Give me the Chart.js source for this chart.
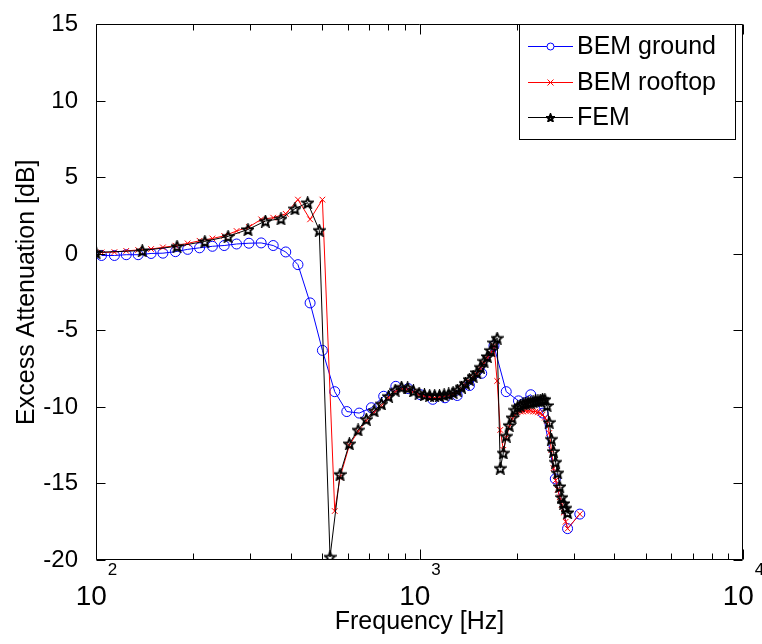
<!DOCTYPE html>
<html>
<head>
<meta charset="utf-8">
<title>Excess Attenuation</title>
<script src="https://cdn.jsdelivr.net/npm/chart.js"></script>
<style>
  html, body { margin: 0; padding: 0; background: #fff; }
  #chart { display: block; }
</style>
</head>
<body>
<canvas id="chart" width="762" height="644"></canvas>
<script>
// frequencies [Hz] and excess attenuation [dB]
var bemGroundFreq = [104, 114, 124, 135, 148, 161, 176, 192, 209, 229, 249, 272, 297, 324, 353, 386, 421, 459, 501, 547,
    596, 651, 710, 775, 845, 923, 1007, 1099, 1199, 1308, 1427, 1557, 1699, 1854, 2023, 2208, 2409, 2629, 2869, 3130];
var bemGround = [-0.1, -0.1, -0.05, -0.05, 0.03, 0.05, 0.15, 0.3, 0.4, 0.5, 0.55, 0.65, 0.7, 0.72, 0.55, 0.13, -0.7, -3.2, -6.3, -9.0,
    -10.3, -10.4, -10.05, -9.3, -8.65, -8.8, -9.2, -9.5, -9.4, -9.25, -8.6, -7.8, -6.0, -9.0, -9.6, -9.2, -10.4, -14.7, -17.95, -17.0];

var bemRooftopFreq = [104, 114, 124, 135, 148, 161, 176, 192, 209, 229, 249, 272, 297, 324, 353, 386, 421, 459, 501, 547,
    568, 607, 646, 685, 724, 763, 802, 841, 880, 919, 958, 997, 1036, 1075, 1114, 1153, 1192, 1231, 1270, 1309,
    1348, 1387, 1426, 1465, 1504, 1543, 1582, 1621, 1660, 1699, 1738, 1777, 1816, 1855, 1894, 1933, 1972, 2011, 2050, 2089,
    2128, 2167, 2206, 2245, 2284, 2323, 2362, 2401, 2440, 2479, 2518, 2557, 2596, 2635, 2674, 2713, 2752, 2791, 2830,
    2869, 3130];
var bemRooftop = [0.1, 0.12, 0.2, 0.26, 0.32, 0.43, 0.54, 0.69, 0.86, 1.01, 1.18, 1.5, 1.76, 2.26, 2.37, 2.62, 3.55, 2.26, 3.55, -16.8,
    -14.6, -12.5, -11.6, -10.9, -10.35, -9.9, -9.4, -9.0, -8.8, -8.85, -9.0, -9.2, -9.3, -9.35, -9.4, -9.35, -9.3, -9.25, -9.15, -9.0,
    -8.8, -8.55, -8.3, -8.05, -7.85, -7.5, -7.15, -6.8, -6.5, -6.0, -8.3, -11.5, -12.8, -12.0, -11.3, -10.8, -10.5, -10.35, -10.3, -10.3,
    -10.25, -10.25, -10.25, -10.3, -10.3, -10.35, -10.4, -10.5, -10.7, -10.9, -11.7, -12.8, -14.0, -14.8, -15.4, -15.9, -16.4, -16.9, -17.5,
    -17.95, -17.0];

var femFreq = [100, 139, 178, 217, 256, 295, 334, 373, 412, 451,
    490, 529, 568, 607, 646, 685, 724, 763, 802, 841,
    880, 919, 958, 997, 1036, 1075, 1114, 1153, 1192, 1231,
    1270, 1309, 1348, 1387, 1426, 1465, 1504, 1543, 1582, 1621,
    1660, 1699, 1738, 1777, 1816, 1855, 1894, 1933, 1972, 2011,
    2050, 2089, 2128, 2167, 2206, 2245, 2284, 2323, 2362, 2401,
    2440, 2479, 2518, 2557, 2596, 2635, 2674, 2713, 2752, 2791,
    2830, 2869];
var fem = [0.1, 0.22, 0.5, 0.82, 1.15, 1.6, 2.15, 2.3, 2.95, 3.35,
    1.55, -19.8, -14.4, -12.4, -11.5, -10.8, -10.25, -9.8, -9.3, -8.9,
    -8.7, -8.75, -8.95, -9.1, -9.2, -9.25, -9.25, -9.25, -9.2, -9.15,
    -9.05, -8.9, -8.7, -8.45, -8.2, -8.0, -7.75, -7.4, -7.0, -6.7,
    -6.3, -5.8, -5.5, -14.0, -13.0, -11.9, -11.2, -10.7, -10.2, -10.0,
    -9.9, -9.8, -9.75, -9.7, -9.7, -9.65, -9.6, -9.6, -9.55, -9.5,
    -9.5, -9.9, -11.0, -12.1, -12.9, -13.6, -14.3, -15.2, -15.9, -16.3,
    -16.6, -16.9];

var seriesNames = ["BEM ground", "BEM rooftop", "FEM"];
var seriesColors = ["#0000ff", "#ff0000", "#000000"];

// axis ticks
var xMajorTicks = [100, 1000, 10000];
var xTickBase = ["10", "10", "10"];
var xTickExponents = ["2", "3", "4"];
var xMinorTicks = [200, 300, 400, 500, 600, 700, 800, 900, 2000, 3000, 4000, 5000, 6000, 7000, 8000, 9000];
var yTicks = [-20, -15, -10, -5, 0, 5, 10, 15];

var fontName = "'Liberation Sans', Arial, sans-serif";

function toPoints(xs, ys) {
    var pts = [];
    for (var i = 0; i < xs.length; i++) {
        pts.push({ x: xs[i], y: ys[i] });
    }
    return pts;
}

// pentagram marker (like matlab 'p')
function makeStar(size, lw) {
    var c = document.createElement("canvas");
    c.width = size;
    c.height = size;
    var g = c.getContext("2d");
    var m = size / 2;
    var ro = size / 2 - 1, ri = ro * 0.45;
    g.beginPath();
    for (var i = 0; i < 10; i++) {
        var r = i % 2 === 0 ? ro : ri;
        var a = -Math.PI / 2 + i * Math.PI / 5;
        var px = m + r * Math.cos(a), py = m + 0.6 + r * Math.sin(a);
        if (i === 0) g.moveTo(px, py); else g.lineTo(px, py);
    }
    g.closePath();
    g.strokeStyle = "#000";
    g.lineWidth = lw;
    g.lineJoin = "miter";
    g.stroke();
    return c;
}
var starMarker = makeStar(13, 1.9);
var starSmall = makeStar(9, 2.2);

// axes box, inward ticks, x labels and legend, matlab style
var matlabAxes = {
    id: "matlabAxes",
    afterDatasetsDraw: function (chart) {
        var ctx = chart.ctx, a = chart.chartArea;
        var xs = chart.scales.x, ys = chart.scales.y;
        var L = Math.round(a.left) + 0.5, R = Math.round(a.right) - 0.5;
        var T = Math.round(a.top) + 0.5, B = Math.round(a.bottom) - 0.5;
        ctx.save();
        ctx.strokeStyle = "#000";
        ctx.lineWidth = 1;
        ctx.beginPath();
        ctx.rect(L, T, R - L, B - T);
        function xTick(v, len) {
            var p = Math.round(xs.getPixelForValue(v)) + 0.5;
            ctx.moveTo(p, B); ctx.lineTo(p, B - len);
            ctx.moveTo(p, T); ctx.lineTo(p, T + len);
        }
        xMinorTicks.forEach(function (v) { xTick(v, 6); });
        xMajorTicks.forEach(function (v) { xTick(v, 10); });
        yTicks.forEach(function (v) {
            var p = Math.round(ys.getPixelForValue(v)) + 0.5;
            ctx.moveTo(L, p); ctx.lineTo(L + 9, p);
            ctx.moveTo(R, p); ctx.lineTo(R - 9, p);
        });
        ctx.stroke();

        // x tick labels 10^n
        ctx.fillStyle = "#000";
        ctx.textBaseline = "alphabetic";
        ctx.textAlign = "left";
        for (var i = 0; i < xMajorTicks.length; i++) {
            var p = xs.getPixelForValue(xMajorTicks[i]);
            ctx.font = "28px " + fontName;
            var wb = ctx.measureText(xTickBase[i]).width;
            ctx.font = "17px " + fontName;
            var we = ctx.measureText(xTickExponents[i]).width;
            var x0 = p - (wb + we) / 2;
            ctx.font = "28px " + fontName;
            ctx.fillText(xTickBase[i], x0, 605);
            ctx.font = "17px " + fontName;
            ctx.fillText(xTickExponents[i], x0 + wb + 1, 575);
        }
        ctx.restore();
    },
    afterDraw: function (chart) {
        var ctx = chart.ctx;
        var bx = 519.5, by = 24.5, bw = 216, bh = 115;
        ctx.save();
        ctx.fillStyle = "#fff";
        ctx.fillRect(bx, by, bw, bh);
        ctx.strokeStyle = "#000";
        ctx.lineWidth = 1;
        ctx.strokeRect(bx, by, bw, bh);
        ctx.font = "25px " + fontName;
        ctx.textBaseline = "middle";
        ctx.textAlign = "left";
        chart.data.datasets.forEach(function (ds, i) {
            var yy = Math.round(46 + 35.5 * i) + 0.5;
            ctx.strokeStyle = ds.borderColor;
            ctx.lineWidth = 1;
            ctx.beginPath();
            ctx.moveTo(528, yy);
            ctx.lineTo(573, yy);
            ctx.stroke();
            var mx = 550.5;
            ctx.beginPath();
            if (i === 0) {
                ctx.fillStyle = "#fff";
                ctx.arc(mx, yy, 3.5, 0, Math.PI * 2);
                ctx.fill();
                ctx.stroke();
            } else if (i === 1) {
                ctx.moveTo(mx - 3, yy - 3); ctx.lineTo(mx + 3, yy + 3);
                ctx.moveTo(mx - 3, yy + 3); ctx.lineTo(mx + 3, yy - 3);
                ctx.stroke();
            } else {
                ctx.drawImage(starSmall, mx - 4.5, yy - 4.5);
            }
            ctx.fillStyle = "#000";
            ctx.fillText(ds.label, 577, yy + 1);
        });
        ctx.restore();
    }
};

var ctx = document.getElementById("chart").getContext("2d");
var chart = new Chart(ctx, {
    type: "line",
    data: {
        datasets: [
            {
                label: seriesNames[0],
                data: toPoints(bemGroundFreq, bemGround),
                borderColor: seriesColors[0],
                backgroundColor: "rgba(0,0,0,0)",
                borderWidth: 1,
                pointStyle: "circle",
                pointRadius: 5,
                pointBorderWidth: 1,
                pointBorderColor: seriesColors[0],
                pointBackgroundColor: "rgba(0,0,0,0)",
                order: 3
            },
            {
                label: seriesNames[1],
                data: toPoints(bemRooftopFreq, bemRooftop),
                borderColor: seriesColors[1],
                backgroundColor: "rgba(0,0,0,0)",
                borderWidth: 1,
                pointStyle: "crossRot",
                pointRadius: 4,
                pointBorderWidth: 1,
                pointBorderColor: seriesColors[1],
                order: 2
            },
            {
                label: seriesNames[2],
                data: toPoints(femFreq, fem),
                borderColor: seriesColors[2],
                backgroundColor: "rgba(0,0,0,0)",
                borderWidth: 1,
                pointStyle: starMarker,
                pointRadius: 6,
                order: 1
            }
        ]
    },
    options: {
        responsive: false,
        animation: false,
        events: [],
        layout: { padding: { top: 18, right: 19, left: 0, bottom: 0 } },
        plugins: {
            legend: { display: false },
            tooltip: { enabled: false }
        },
        elements: { line: { tension: 0 } },
        scales: {
            x: {
                type: "logarithmic",
                min: 100,
                max: 10000,
                grid: { display: false },
                border: { display: false },
                ticks: { display: false },
                title: {
                    display: true,
                    text: "Frequency [Hz]",
                    color: "#000",
                    font: { family: fontName, size: 25 },
                    padding: { top: 0, bottom: 7 }
                },
                afterFit: function (scale) { scale.height = 84; }
            },
            y: {
                min: -20,
                max: 15,
                grid: { display: false },
                border: { display: false },
                ticks: {
                    stepSize: 5,
                    color: "#000",
                    padding: 10,
                    font: { family: fontName, size: 24 }
                },
                title: {
                    display: true,
                    text: "Excess Attenuation [dB]",
                    color: "#000",
                    font: { family: fontName, size: 25 },
                    padding: { top: 12, bottom: 0 }
                },
                afterFit: function (scale) { scale.width = 96; }
            }
        }
    },
    plugins: [matlabAxes]
});
</script>
</body>
</html>
